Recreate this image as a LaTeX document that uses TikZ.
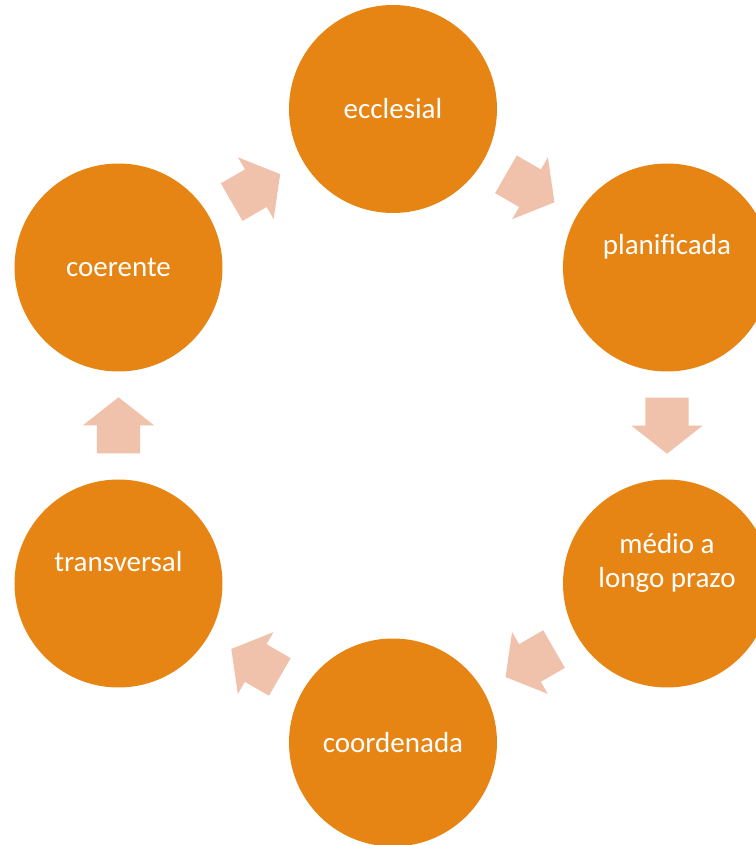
\documentclass[tikz,border=0pt]{standalone}
\usepackage{fontspec}
\setmainfont{Carlito}
\usepackage{tikz}
\usetikzlibrary{shapes.arrows, positioning, calc}

\definecolor{laranja}{RGB}{230,133,20}
\definecolor{salmao}{RGB}{240,193,171}

\tikzset{
    etapa/.style={circle, fill=laranja, draw=none, minimum size=208pt, inner sep=0pt},
    rotulo/.style={text=white, align=center, inner sep=0pt, font=\fontsize{29pt}{34pt}\selectfont},
    seta/.style={single arrow, fill=salmao, draw=none, inner xsep=0pt, inner ysep=21.5pt,
        minimum height=56pt, minimum width=0pt, anchor=tail,
        single arrow head extend=14pt, single arrow tip angle=103.5}
}

\begin{document}
\begin{tikzpicture}

        % Moldura da figura
        \useasboundingbox (-393pt,425.5pt) rectangle (362pt,-419.5pt);

        % Círculos do ciclo
        \node[etapa, label={[rotulo]center:ecclesial}] (ecc) at (0pt,316.5pt) {}; % topo
        \node[etapa, label={[rotulo, yshift=21pt]center:planificada}] (plan) at (274pt,158pt) {}; % direita em cima
        \node[etapa, label={[rotulo, yshift=21pt]center:médio a\\longo prazo}] (medio) at (274pt,-158pt) {}; % direita em baixo
        \node[etapa, label={[rotulo]center:coordenada}] (coord) at (0pt,-317pt) {}; % base
        \node[etapa, label={[rotulo, yshift=22pt]center:transversal}] (trans) at (-274.5pt,-158pt) {}; % esquerda em baixo
        \node[etapa, label={[rotulo]center:coerente}] (coer) at (-274.5pt,158pt) {}; % esquerda em cima

        % Setas entre os círculos (cauda 28pt antes do meio)
        \node[seta, rotate=-30] (s1) at ($(ecc)!0.5!(plan)!28pt!(ecc)$) {};
        \node[seta, rotate=-90] (s2) at ($(plan)!0.5!(medio)!28pt!(plan)$) {};
        \node[seta, rotate=-150] (s3) at ($(medio)!0.5!(coord)!28pt!(medio)$) {};
        \node[seta, rotate=150] (s4) at ($(coord)!0.5!(trans)!28pt!(coord)$) {};
        \node[seta, rotate=90] (s5) at ($(trans)!0.5!(coer)!28pt!(trans)$) {};
        \node[seta, rotate=30] (s6) at ($(coer)!0.5!(ecc)!28pt!(coer)$) {};

\end{tikzpicture}
\end{document}
